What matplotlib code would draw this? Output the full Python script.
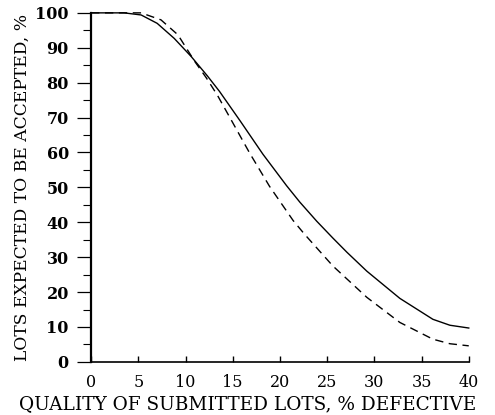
import matplotlib
matplotlib.use("Agg")
import matplotlib.pyplot as plt
from matplotlib.ticker import MultipleLocator

# OC curves
solid_x = [0, 3.5, 5.3, 7, 8.8, 10.6, 12.3, 13.6, 15.8, 18.2, 20.7, 22.1, 23.9,
           25.6, 27.1, 29.2, 32.7, 36.2, 38, 40]
solid_y = [100, 100, 99.4, 97, 92.7, 87.5, 82, 77.5, 69, 59.5, 50.5, 45.8, 40.3,
           35.5, 31.4, 26, 18.2, 12.2, 10.5, 9.7]
dash_x = [0, 5.3, 7.4, 9.2, 11, 12.2, 13.4, 14.7, 16.8, 18.9, 21.4, 22.6, 25.6,
          29.2, 32.7, 36.2, 38, 40]
dash_y = [100, 100, 98, 93.7, 86, 81.4, 76.3, 70, 59.8, 50.3, 40.5, 36.6, 27.5,
          18.5, 11.3, 6.5, 5.2, 4.6]

x_ticks = [0, 5, 10, 15, 20, 25, 30, 35, 40]
y_ticks = [0, 10, 20, 30, 40, 50, 60, 70, 80, 90, 100]

plt.rcParams["font.family"] = ["DejaVu Serif"]

fig = plt.figure(figsize=(4.95, 4.15), dpi=100)
ax = fig.add_axes([0.184, 0.128, 0.763, 0.841])

ax.plot(solid_x, solid_y, "-", color="black", lw=1.0, clip_on=False)
ax.plot(dash_x, dash_y, color="black", lw=1.0, dashes=(6, 4), clip_on=False)

ax.set_xlim(0, 40)
ax.set_ylim(0, 100)
for s in ("top", "right"):
    ax.spines[s].set_visible(False)
ax.spines["left"].set_linewidth(1.6)
ax.spines["bottom"].set_linewidth(1.2)

ax.set_xticks(x_ticks)
ax.set_yticks(y_ticks)
ax.yaxis.set_minor_locator(MultipleLocator(5))
ax.tick_params(axis="x", direction="in", length=4, width=1, labelsize=11.5, pad=9)
ax.tick_params(axis="y", which="major", direction="out", length=10, width=0.9,
               labelsize=11.5, pad=6)
ax.tick_params(axis="y", which="minor", direction="out", length=6, width=0.8)
for lab in ax.get_yticklabels():
    lab.set_fontweight("bold")

ax.set_xlabel("QUALITY OF SUBMITTED LOTS, % DEFECTIVE", fontsize=13.3)
# centre the x label on the figure, like the original
ax.xaxis.set_label_coords(0.414, -0.095)
ax.set_ylabel("LOTS EXPECTED TO BE ACCEPTED, %", fontsize=12.3, labelpad=3)

fig.savefig("out.png", dpi=100)
